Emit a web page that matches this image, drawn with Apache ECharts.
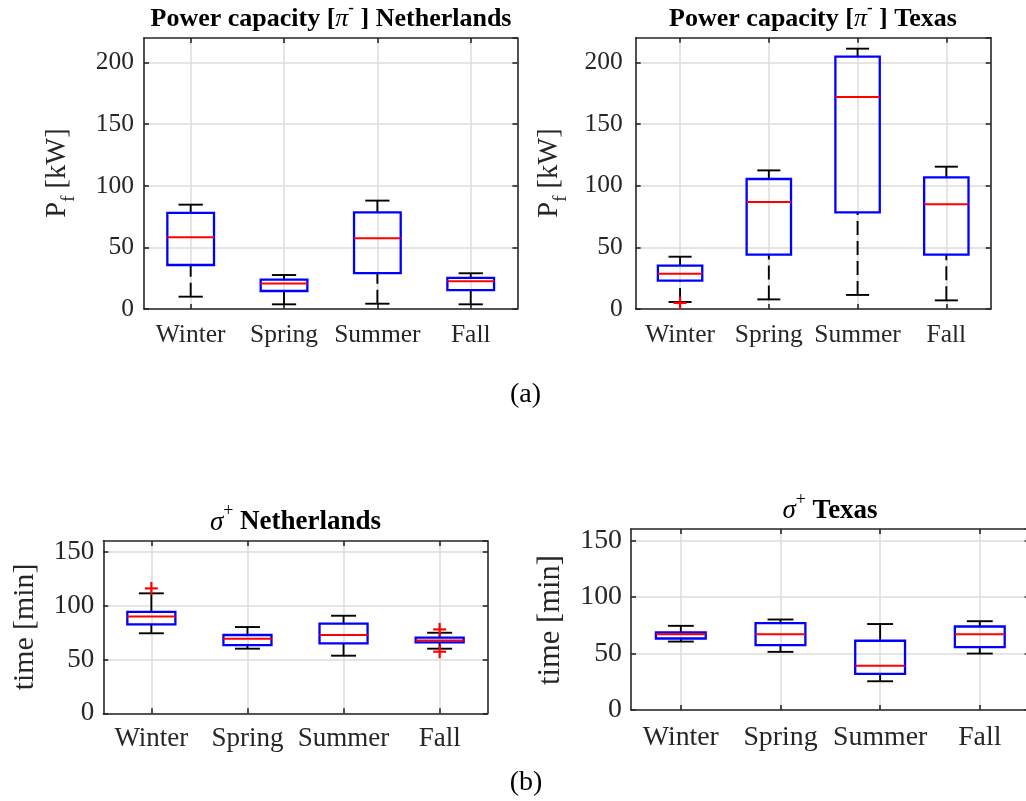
<!DOCTYPE html>
<html>
<head>
<meta charset="utf-8">
<script src="https://cdn.jsdelivr.net/npm/echarts@6/dist/echarts.min.js"></script>
<style>
  html, body { margin: 0; padding: 0; background: #fff; }
  #chart { width: 1026px; height: 801px; }
</style>
</head>
<body>
<div id="chart"></div>
<script>
// Seasons on the horizontal axis of every panel
const seasons = ['Winter', 'Spring', 'Summer', 'Fall'];

// Box statistics per season: [lower whisker, Q1, median, Q3, upper whisker]
const powerNetherlands = [
  [10.0, 35.7, 58.2, 78.0, 84.7],
  [3.8, 14.6, 20.6, 23.8, 27.6],
  [4.3, 29.2, 57.4, 78.5, 88.0],
  [3.8, 15.4, 22.5, 25.2, 29.0]
];
const powerTexas = [
  [5.7, 23.0, 28.6, 35.1, 42.4],
  [7.8, 44.1, 86.8, 105.4, 112.4],
  [11.4, 78.4, 171.9, 204.6, 211.1],
  [7.0, 44.1, 84.9, 106.8, 115.4]
];
const timeNetherlands = [
  [74.3, 82.6, 89.8, 94.2, 111.4],
  [60.0, 63.4, 69.3, 72.7, 80.1],
  [53.5, 64.9, 72.7, 83.2, 90.6],
  [60.0, 65.9, 67.7, 70.2, 74.8]
];
const timeTexas = [
  [60.5, 63.2, 67.0, 68.5, 74.4],
  [51.4, 57.3, 67.0, 76.8, 80.0],
  [25.4, 31.9, 39.1, 61.2, 76.0],
  [49.9, 55.5, 67.0, 73.8, 78.5]
];

// Outliers: [season index, value]
const powerNetherlandsOutliers = [];
const powerTexasOutliers = [[0, 4.9]];
const timeNetherlandsOutliers = [[0, 116.0], [3, 77.9], [3, 57.2]];
const timeTexasOutliers = [];

// Tick labels of the value axes and their upper limits
const powerTicks = [0, 50, 100, 150, 200];
const timeTicks = [0, 50, 100, 150];
const powerMax = 220;
const timeMax = 160;

const FONT = 'Liberation Serif';
const AXIS_COLOR = '#262626';
const GRID_COLOR = '#dcdcdc';

const panels = [
  { stats: powerNetherlands, outliers: powerNetherlandsOutliers, ticks: powerTicks, yMax: powerMax,
    box: { left: 144, top: 38, width: 373.4, height: 271 },
    tickFont: 25.5, xMargin: 13, yMargin: 10, dash: [14, 6] },
  { stats: powerTexas, outliers: powerTexasOutliers, ticks: powerTicks, yMax: powerMax,
    box: { left: 635.7, top: 37.7, width: 355, height: 271.3 },
    tickFont: 25.5, xMargin: 13, yMargin: 13, dash: [14, 6] },
  { stats: timeNetherlands, outliers: timeNetherlandsOutliers, ticks: timeTicks, yMax: timeMax,
    box: { left: 103.3, top: 541, width: 384.4, height: 172.3 },
    tickFont: 27, xMargin: 12.4, yMargin: 9, dash: null },
  { stats: timeTexas, outliers: timeTexasOutliers, ticks: timeTicks, yMax: timeMax,
    box: { left: 631, top: 529, width: 398.6, height: 181 },
    tickFont: 27.8, xMargin: 13.4, yMargin: 9, dash: null }
];

// Box, median and whiskers drawn from the axis scales
function boxRenderer(dash) {
  return function (params, api) {
    const k = api.value(0);
    const lo = api.coord([k, api.value(1)]);
    const q1 = api.coord([k, api.value(2)]);
    const md = api.coord([k, api.value(3)]);
    const q3 = api.coord([k, api.value(4)]);
    const hi = api.coord([k, api.value(5)]);
    const band = api.size([1, 0])[0];
    const x = lo[0];
    const hb = band * 0.25;
    const hc = band * 0.13;
    const whisker = { stroke: '#000', lineWidth: 1.9, lineDash: dash || null };
    const cap = { stroke: '#000', lineWidth: 1.9 };
    return {
      type: 'group',
      children: [
        { type: 'line', shape: { x1: x, y1: hi[1], x2: x, y2: q3[1] }, style: whisker },
        { type: 'line', shape: { x1: x, y1: lo[1], x2: x, y2: q1[1] }, style: whisker },
        { type: 'line', shape: { x1: x - hc, y1: hi[1], x2: x + hc, y2: hi[1] }, style: cap },
        { type: 'line', shape: { x1: x - hc, y1: lo[1], x2: x + hc, y2: lo[1] }, style: cap },
        { type: 'rect', shape: { x: x - hb, y: q3[1], width: 2 * hb, height: q1[1] - q3[1] },
          style: { fill: 'none', stroke: '#0000ff', lineWidth: 2.3 } },
        { type: 'line', shape: { x1: x - hb, y1: md[1], x2: x + hb, y2: md[1] },
          style: { stroke: '#ff0000', lineWidth: 2 } }
      ]
    };
  };
}

// Red plus markers for outliers
function plusRenderer(params, api) {
  const p = api.coord([api.value(0), api.value(1)]);
  const h = 6.5;
  const st = { stroke: '#ff0000', lineWidth: 2.2 };
  return {
    type: 'group',
    children: [
      { type: 'line', shape: { x1: p[0] - h, y1: p[1], x2: p[0] + h, y2: p[1] }, style: st },
      { type: 'line', shape: { x1: p[0], y1: p[1] - h, x2: p[0], y2: p[1] + h }, style: st }
    ]
  };
}

const grid = [], xAxis = [], yAxis = [], series = [];
panels.forEach(function (p, i) {
  grid.push(Object.assign({ containLabel: false, outerBoundsMode: 'none' }, p.box));
  const lineStyle = { color: AXIS_COLOR, width: 1.6 };
  const tick = { show: true, inside: true, alignWithLabel: true, interval: 0, length: 5, lineStyle: lineStyle };
  xAxis.push({
    type: 'category', gridIndex: i, data: seasons, position: 'bottom', boundaryGap: true,
    axisLine: { show: true, onZero: false, lineStyle: lineStyle },
    axisTick: tick,
    axisLabel: { interval: 0, margin: p.xMargin, fontFamily: FONT, fontSize: p.tickFont, color: AXIS_COLOR },
    splitLine: { show: true, alignWithLabel: true, interval: 0, lineStyle: { color: GRID_COLOR, width: 1.5 } }
  });
  xAxis.push({
    type: 'category', gridIndex: i, data: seasons, position: 'top', boundaryGap: true,
    axisLine: { show: true, onZero: false, lineStyle: lineStyle },
    axisTick: tick,
    axisLabel: { show: false },
    splitLine: { show: false }
  });
  const step = p.ticks[1] - p.ticks[0];
  yAxis.push({
    type: 'value', gridIndex: i, min: p.ticks[0], max: p.yMax, interval: step, position: 'left',
    axisLine: { show: true, onZero: false, lineStyle: lineStyle },
    axisTick: { show: true, inside: true, length: 5, lineStyle: lineStyle },
    axisLabel: {
      margin: p.yMargin, fontFamily: FONT, fontSize: p.tickFont, color: AXIS_COLOR,
      showMaxLabel: false,
      formatter: function (v) { return p.ticks.indexOf(v) >= 0 ? String(v) : ''; }
    },
    splitLine: { show: true, showMaxLine: false, lineStyle: { color: GRID_COLOR, width: 1.5 } }
  });
  yAxis.push({
    type: 'value', gridIndex: i, min: p.ticks[0], max: p.yMax, interval: step, position: 'right',
    axisLine: { show: true, onZero: false, lineStyle: lineStyle },
    axisTick: { show: true, inside: true, length: 5, lineStyle: lineStyle },
    axisLabel: { show: false },
    splitLine: { show: false }
  });
  series.push({
    type: 'custom', xAxisIndex: 2 * i, yAxisIndex: 2 * i, silent: true, z: 3, clip: false,
    data: p.stats.map(function (s, k) { return [k].concat(s); }),
    encode: { x: 0, y: [1, 2, 3, 4, 5] },
    renderItem: boxRenderer(p.dash)
  });
  series.push({
    type: 'custom', xAxisIndex: 2 * i, yAxisIndex: 2 * i, silent: true, z: 4, clip: false,
    data: p.outliers,
    encode: { x: 0, y: 1 },
    renderItem: plusRenderer
  });
});

function rs(size, weight, style, extra) {
  return Object.assign({ fontFamily: FONT, fontSize: size, fontWeight: weight || 'normal',
    fontStyle: style || 'normal', fill: '#000' }, extra || {});
}

function titleRich(size, supSize, supPad) {
  return {
    b: rs(size, 'bold'),
    i: rs(size, 'normal', 'italic'),
    s: rs(supSize, 'bold', 'normal', { padding: [0, 0, supPad, 0] }),
    p: rs(supSize, 'normal', 'normal', { padding: [0, 0, supPad, 0] })
  };
}

function text(x, y, str, rich, rotation, color) {
  return {
    type: 'text', x: x, y: y, rotation: rotation || 0, silent: true,
    style: { text: str, rich: rich, textAlign: 'center', textVerticalAlign: 'middle',
      fontFamily: FONT, fontSize: 20, fill: color || '#000' }
  };
}

const labelRichPower = {
  a: rs(28.5, 'normal', 'normal', { fill: AXIS_COLOR }),
  s: rs(19, 'normal', 'normal', { fill: AXIS_COLOR, padding: [22, 0, 0, 0] })
};
const labelRichTimeNL = { a: rs(29.8, 'normal', 'normal', { fill: AXIS_COLOR }) };
const labelRichTimeTX = { a: rs(30.6, 'normal', 'normal', { fill: AXIS_COLOR }) };
const capRich = { a: rs(28) };

const graphic = [
  text(331, 19, '{b|Power capacity [}{i|π}{s|-}{b| ] Netherlands}', titleRich(26, 17, 20)),
  text(813, 19, '{b|Power capacity [}{i|π}{s|-}{b| ] Texas}', titleRich(26, 17, 20)),
  text(295.5, 522.5, '{i|σ}{p|+}{b| Netherlands}', titleRich(27, 18, 22)),
  text(830, 511.3, '{i|σ}{p|+}{b| Texas}', titleRich(27, 18, 22)),
  text(58, 173, '{a|P}{s|f}{a| [kW]}', labelRichPower, Math.PI / 2),
  text(550, 173, '{a|P}{s|f}{a| [kW]}', labelRichPower, Math.PI / 2),
  text(25, 627, '{a|time [min]}', labelRichTimeNL, Math.PI / 2),
  text(550.5, 620, '{a|time [min]}', labelRichTimeTX, Math.PI / 2),
  text(525.5, 395, '{a|(a)}', capRich),
  text(526, 783, '{a|(b)}', capRich)
];

const chart = echarts.init(document.getElementById('chart'), null, { renderer: 'canvas' });
chart.setOption({
  backgroundColor: '#ffffff',
  animation: false,
  grid: grid,
  xAxis: xAxis,
  yAxis: yAxis,
  series: series,
  graphic: { elements: graphic }
});
</script>
</body>
</html>
